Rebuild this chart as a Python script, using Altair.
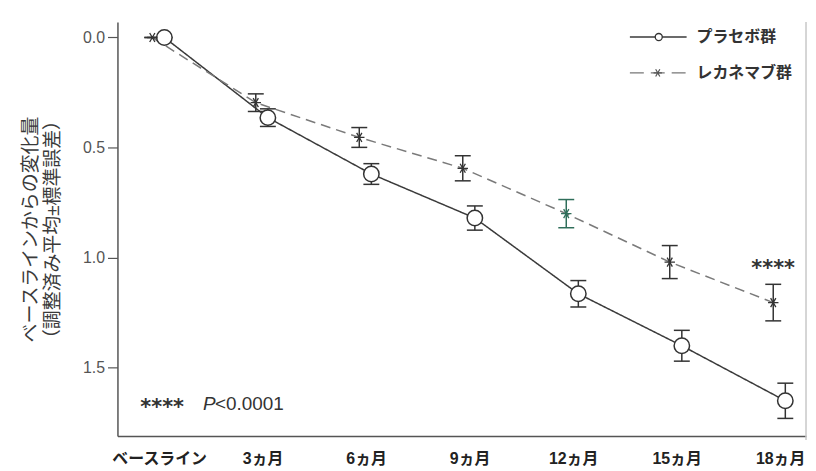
import altair as alt
import pandas as pd

# ---- data ----
months = [0, 3, 6, 9, 12, 15, 18]
groups = ["プラセボ群", "レカネマブ群"]
placebo_mean = [0.0, 0.364, 0.62, 0.82, 1.164, 1.40, 1.65]
placebo_se = [0.0, 0.04, 0.047, 0.055, 0.06, 0.07, 0.08]
lecanemab_mean = [0.0, 0.296, 0.454, 0.594, 0.80, 1.02, 1.204]
lecanemab_se = [0.0, 0.04, 0.045, 0.057, 0.064, 0.075, 0.083]
y_ticks = [0.0, 0.5, 1.0, 1.5]
y_title = ["ベースラインからの変化量", "（調整済み平均±標準誤差）"]
sig_month = [18]
sig_value = [1.03]
sig_text = ["****"]
p_star = "****"
p_italic = "P"
p_rest = "<0.0001"

rows = []
for g, means, ses in [(groups[0], placebo_mean, placebo_se), (groups[1], lecanemab_mean, lecanemab_se)]:
    for m, v, s in zip(months, means, ses):
        rows.append({"group": g, "month": m, "mean": v, "lo": v - s, "hi": v + s})
df = pd.DataFrame(rows)
sig_df = pd.DataFrame({"month": sig_month, "value": sig_value, "text": sig_text})
leg_df = pd.DataFrame({"group": groups})

FONT = "Liberation Sans, Noto Sans CJK JP, sans-serif"
STARFONT = "DejaVu Sans"
DARK = "#333333"

xscale = alt.Scale(domain=[-1.21, 18.75], nice=False, zero=False)
yscale = alt.Scale(domain=[-0.07, 1.81], nice=False, zero=False, reverse=True)

xaxis = alt.Axis(values=months, ticks=False, grid=False, title=None,
                 labelExpr="datum.value == 0 ? 'ベースライン' : datum.value + 'ヵ月'",
                 labelFont=FONT, labelFontSize=16, labelFontWeight="bold", labelColor="#222222",
                 labelPadding=15, domainColor="#555555", domainWidth=1.5)
yaxis = alt.Axis(values=y_ticks, format=".1f", grid=False, title=y_title,
                 labelFont=FONT, labelFontSize=16, labelColor="#555555", labelPadding=3,
                 tickSize=10, tickColor="#555555", tickWidth=1.2,
                 domainColor="#555555", domainWidth=1.5,
                 titleFont=FONT, titleFontSize=19, titleFontWeight="normal", titleColor="#3a3a3a",
                 titleLineHeight=22, titlePadding=20)

base = alt.Chart(df).transform_calculate(
    xpos="datum.month + (datum.group == 'プラセボ群' ? 0.15 : -0.2)"
)
X = alt.X("xpos:Q", scale=xscale, axis=xaxis)

color_scale = alt.Scale(domain=groups, range=["#3a3a3a", "#7a7a7a"])
dash_scale = alt.Scale(domain=groups, range=[[1, 0], [10, 6]])

lines = base.mark_line(strokeWidth=1.5).encode(
    x=X,
    y=alt.Y("mean:Q", scale=yscale, axis=yaxis),
    color=alt.Color("group:N", scale=color_scale, legend=None),
    strokeDash=alt.StrokeDash("group:N", scale=dash_scale, legend=None),
    detail="group:N",
)

err_color = alt.condition(
    "datum.group == 'レカネマブ群' && datum.month == 12", alt.value("#2f6e5a"), alt.value(DARK)
)

rules = base.mark_rule(strokeWidth=1.5).encode(
    x=X, y=alt.Y("lo:Q", scale=yscale, axis=yaxis), y2="hi:Q", color=err_color
)
cap_lo = base.mark_point(shape="stroke", size=256, strokeWidth=1.5, filled=False, opacity=1).encode(
    x=X, y=alt.Y("lo:Q", scale=yscale, axis=yaxis), color=err_color
)
cap_hi = base.mark_point(shape="stroke", size=256, strokeWidth=1.5, filled=False, opacity=1).encode(
    x=X, y=alt.Y("hi:Q", scale=yscale, axis=yaxis), color=err_color
)

STAR = "M-1,0L1,0M-0.5,-0.866L0.5,0.866M-0.5,0.866L0.5,-0.866"

circles = base.transform_filter(alt.datum.group == groups[0]).mark_point(
    shape="circle", size=240, filled=False, strokeWidth=1.5, color=DARK, opacity=1, fill="white"
).encode(x=X, y=alt.Y("mean:Q", scale=yscale, axis=yaxis))

stars = base.transform_filter(alt.datum.group == groups[1]).mark_point(
    shape=STAR, size=110, filled=False, strokeWidth=1.3, opacity=1
).encode(x=X, y=alt.Y("mean:Q", scale=yscale, axis=yaxis), color=err_color)

sig = alt.Chart(sig_df).mark_text(
    font=STARFONT, fontSize=21, fontWeight="bold", color=DARK, align="center", baseline="middle", dx=-7, dy=5
).encode(
    x=alt.X("month:Q", scale=xscale, axis=xaxis),
    y=alt.Y("value:Q", scale=yscale, axis=yaxis),
    text="text:N",
)

# p-value note
p1 = alt.Chart(pd.DataFrame({"t": [p_star]})).mark_text(
    font=STARFONT, fontSize=21, fontWeight="bold", color=DARK, align="left", baseline="middle", dy=4
).encode(x=alt.value(23), y=alt.value(384), text="t:N")
p2 = alt.Chart(pd.DataFrame({"t": [p_italic]})).mark_text(
    font=FONT, fontSize=19, fontStyle="italic", color=DARK, align="left", baseline="middle"
).encode(x=alt.value(86), y=alt.value(384), text="t:N")
p3 = alt.Chart(pd.DataFrame({"t": [p_rest]})).mark_text(
    font=FONT, fontSize=19, color=DARK, align="left", baseline="middle"
).encode(x=alt.value(98), y=alt.value(384), text="t:N")

# manual legend
leg_line1 = alt.Chart(leg_df.iloc[[0]]).mark_rule(strokeWidth=1.5, color="#3a3a3a").encode(
    x=alt.value(515), x2=alt.value(572), y=alt.value(15))
leg_line2 = alt.Chart(leg_df.iloc[[1]]).mark_rule(strokeWidth=1.3, color="#777777", strokeDash=[14, 7]).encode(
    x=alt.value(515), x2=alt.value(572), y=alt.value(51))
leg_circ = alt.Chart(leg_df.iloc[[0]]).mark_point(shape="circle", size=50, filled=False, strokeWidth=1.3,
                                                  color=DARK, fill="white", opacity=1).encode(
    x=alt.value(544), y=alt.value(15))
leg_star = alt.Chart(leg_df.iloc[[1]]).mark_point(shape=STAR, size=70, filled=False, strokeWidth=1.2,
                                                  color="#555555", opacity=1).encode(
    x=alt.value(543), y=alt.value(51))
leg_text1 = alt.Chart(leg_df.iloc[[0]]).mark_text(
    font=FONT, fontSize=16, fontWeight="bold", color="#333333", align="left", baseline="middle"
).encode(x=alt.value(582), y=alt.value(15), text="group:N")
leg_text2 = alt.Chart(leg_df.iloc[[1]]).mark_text(
    font=FONT, fontSize=16, fontWeight="bold", color="#333333", align="left", baseline="middle"
).encode(x=alt.value(582), y=alt.value(51), text="group:N")

frame = alt.Chart(leg_df.iloc[[0]]).mark_rule(color="#c8c8c8", strokeWidth=1.5).encode(
    x=alt.value(692), y=alt.value(0), y2=alt.value(420))

chart = alt.layer(
    lines, rules, cap_lo, cap_hi, circles, stars, sig, p1, p2, p3,
    leg_line1, leg_line2, leg_circ, leg_star, leg_text1, leg_text2, frame
).properties(
    width=692, height=416,
    padding={"left": 110, "top": 13, "right": 2, "bottom": 33},
    autosize=alt.AutoSizeParams(type="none"),
    background="white",
).configure_view(stroke=None)

chart.save("out.html", embed_options={"renderer": "svg", "actions": False})
